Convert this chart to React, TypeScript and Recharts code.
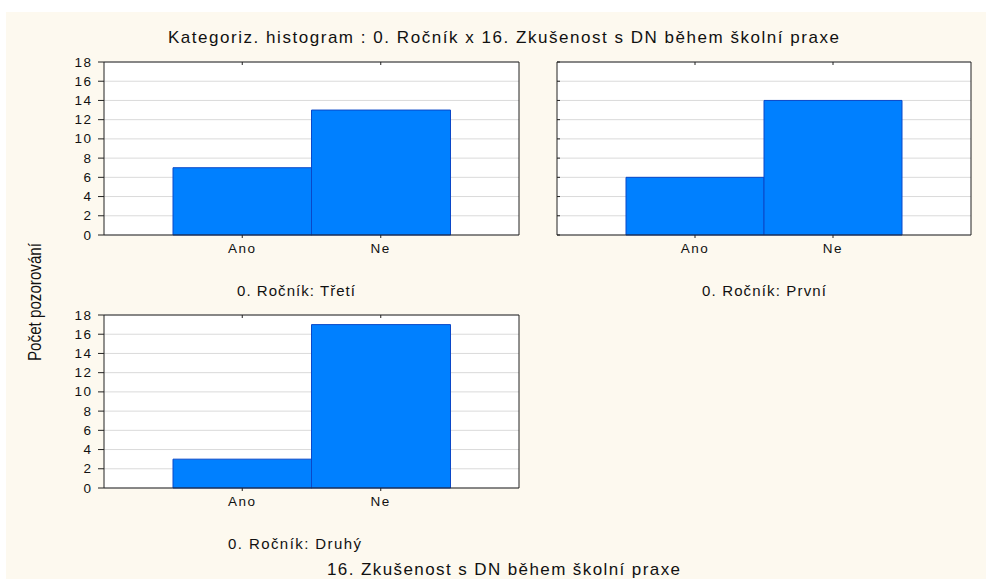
import React from 'react';
import { BarChart, Bar, XAxis, YAxis, CartesianGrid } from 'recharts';

const categories = ['Ano', 'Ne'];
const tretiCounts = [7, 13];
const prvniCounts = [6, 14];
const druhyCounts = [3, 17];
const yTicks = [0, 2, 4, 6, 8, 10, 12, 14, 16, 18];

const titleText = 'Kategoriz. histogram : 0. Ročník x 16. Zkušenost s DN během školní praxe';
const xTitleText = '16. Zkušenost s DN během školní praxe';
const yTitleText = 'Počet pozorování';
const panelLabels = ['0. Ročník: Třetí', '0. Ročník: První', '0. Ročník: Druhý'];

const FONT = '"Liberation Sans", Arial, sans-serif';
const BAR_FILL = '#0080ff';
const BAR_STROKE = '#0a48c8';
const AXIS = '#222222';
const GRID = '#dadada';

const buildData = (counts: number[]) => categories.map((c, i) => ({ cat: c, count: counts[i] }));

const XTick = (props: any) => {
  const { x, y, payload } = props;
  return (
    <text x={x} y={y} dy={13} textAnchor="middle" fontFamily={FONT} fontSize={13.5} letterSpacing={1.5} fill="#111">
      {payload.value}
    </text>
  );
};

const YTick = (props: any) => {
  const { x, y, payload } = props;
  return (
    <text x={x} y={y} dy={4.5} textAnchor="end" fontFamily={FONT} fontSize={13.5} letterSpacing={1.5} fill="#111">
      {payload.value}
    </text>
  );
};

const NoTick = () => <g />;

type PanelProps = {
  counts: number[];
  width: number;
  marginLeft: number;
  marginRight: number;
  showLabels: boolean;
};

const Panel = ({ counts, width, marginLeft, marginRight, showLabels }: PanelProps) => {
  const data = buildData(counts);
  return (
    <BarChart
      width={width}
      height={290}
      data={data}
      margin={{ top: 62, right: marginRight, bottom: 25, left: marginLeft }}
      barCategoryGap={0}
      barGap={0}
    >
      <CartesianGrid xAxisId="bottom" yAxisId="left" vertical={false} stroke={GRID} fill="#ffffff" />
      <XAxis
        xAxisId="bottom"
        dataKey="cat"
        height={30}
        padding={{ left: 69, right: 69 }}
        stroke={AXIS}
        tickSize={3}
        tickMargin={2}
        tick={<XTick />}
        interval={0}
      />
      <XAxis
        xAxisId="top"
        dataKey="cat"
        orientation="top"
        mirror
        padding={{ left: 69, right: 69 }}
        stroke={AXIS}
        tickSize={3}
        tick={<NoTick />}
        interval={0}
      />
      <YAxis
        yAxisId="left"
        domain={[0, 18]}
        ticks={yTicks}
        width={104}
        mirror={!showLabels}
        stroke={AXIS}
        tickSize={showLabels ? 6 : 3}
        tickMargin={5.5}
        tick={showLabels ? <YTick /> : <NoTick />}
        interval={0}
      />
      <YAxis
        yAxisId="right"
        orientation="right"
        domain={[0, 18]}
        ticks={yTicks}
        mirror
        stroke={AXIS}
        tickSize={3}
        tick={<NoTick />}
        interval={0}
      />
      <Bar
        xAxisId="bottom"
        yAxisId="left"
        dataKey="count"
        fill={BAR_FILL}
        stroke={BAR_STROKE}
        strokeWidth={1}
        isAnimationActive={false}
      />
    </BarChart>
  );
};

export default function App() {
  return (
    <div style={{ position: 'absolute', left: 0, top: 0, width: 987, height: 580, background: '#ffffff', overflow: 'hidden' }}>
      <div style={{ position: 'absolute', left: 6, top: 12, width: 980, height: 567, background: '#fdf9ef' }} />
      <div style={{ position: 'absolute', left: 0, top: 0 }}>
        <Panel counts={tretiCounts} width={540} marginLeft={0} marginRight={21} showLabels />
      </div>
      <div style={{ position: 'absolute', left: 540, top: 0 }}>
        <Panel counts={prvniCounts} width={447} marginLeft={17} marginRight={16} showLabels={false} />
      </div>
      <div style={{ position: 'absolute', left: 0, top: 253 }}>
        <Panel counts={druhyCounts} width={540} marginLeft={0} marginRight={21} showLabels />
      </div>
      <svg width={987} height={580} style={{ position: 'absolute', left: 0, top: 0, pointerEvents: 'none' }}>
        <text x={168} y={42.5} fontFamily={FONT} fontSize={17} fill="#111" textLength={671} lengthAdjust="spacing">
          {titleText}
        </text>
        <text x={327} y={575} fontFamily={FONT} fontSize={17} fill="#111" textLength={353} lengthAdjust="spacing">
          {xTitleText}
        </text>
        <text x={237} y={295.5} fontFamily={FONT} fontSize={15} fill="#111" textLength={118} lengthAdjust="spacing">
          {panelLabels[0]}
        </text>
        <text x={702} y={295.5} fontFamily={FONT} fontSize={15} fill="#111" textLength={124} lengthAdjust="spacing">
          {panelLabels[1]}
        </text>
        <text x={228} y={549} fontFamily={FONT} fontSize={15} fill="#111" textLength={133} lengthAdjust="spacing">
          {panelLabels[2]}
        </text>
        <text
          x={0}
          y={0}
          transform="translate(41, 302) rotate(-90)"
          textAnchor="middle"
          fontFamily={'"Liberation Sans Narrow", "Liberation Sans", Arial, sans-serif'}
          fontSize={19}
          fill="#111"
          textLength={118}
          lengthAdjust="spacingAndGlyphs"
        >
          {yTitleText}
        </text>
      </svg>
    </div>
  );
}
